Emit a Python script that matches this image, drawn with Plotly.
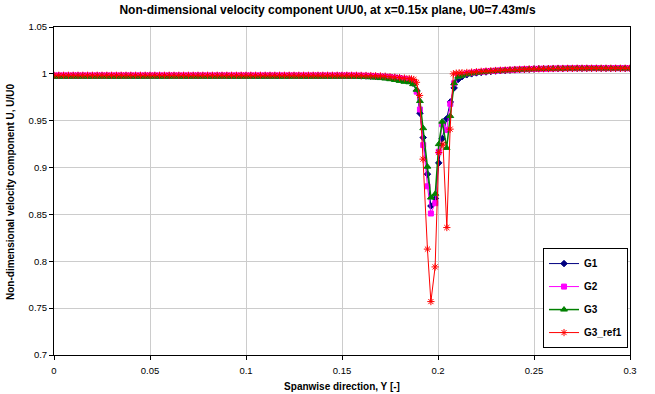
import plotly.graph_objects as go

# ---------------- data ----------------
Y_LEFT = [0.0, 0.0025, 0.005, 0.0075, 0.01, 0.0125, 0.015, 0.0175, 0.02, 0.0225,
          0.025, 0.0275, 0.03, 0.0325, 0.035, 0.0375, 0.04, 0.0425, 0.045, 0.0475,
          0.05, 0.0525, 0.055, 0.0575, 0.06, 0.0625, 0.065, 0.0675, 0.07, 0.0725,
          0.075, 0.0775, 0.08, 0.0825, 0.085, 0.0875, 0.09, 0.0925, 0.095, 0.0975,
          0.1, 0.1025, 0.105, 0.1075, 0.11, 0.1125, 0.115, 0.1175, 0.12, 0.1225,
          0.125, 0.1275, 0.13, 0.1325, 0.135, 0.1375, 0.14, 0.1425, 0.145, 0.1475,
          0.15, 0.1525, 0.155, 0.1575, 0.16, 0.1625, 0.165, 0.1675, 0.17, 0.1725,
          0.175, 0.1775, 0.18, 0.1825]

Y_RIGHT = [0.2125, 0.215, 0.2175, 0.22, 0.2225, 0.225, 0.2275, 0.23, 0.2325, 0.235,
           0.2375, 0.24, 0.2425, 0.245, 0.2475, 0.25, 0.2525, 0.255, 0.2575, 0.26,
           0.2625, 0.265, 0.2675, 0.27, 0.2725, 0.275, 0.2775, 0.28, 0.2825, 0.285,
           0.2875, 0.29, 0.2925, 0.295, 0.2975, 0.3]

DIP_Y = [0.185, 0.187, 0.1889, 0.1906, 0.1923, 0.1945, 0.1963, 0.1986, 0.2004,
         0.2022, 0.2045, 0.2064, 0.2084, 0.2105]

RED_DIP_Y = [0.185, 0.1862, 0.1874, 0.1888, 0.1904, 0.1922, 0.1945, 0.1963, 0.1985,
             0.2004, 0.2026, 0.2046, 0.2063, 0.208, 0.2095, 0.211]

G1_LEFT = [0.998, 0.998, 0.998, 0.998, 0.998, 0.998, 0.998, 0.998, 0.998, 0.998,
           0.998, 0.998, 0.998, 0.998, 0.998, 0.998, 0.998, 0.998, 0.998, 0.998,
           0.998, 0.998, 0.998, 0.998, 0.998, 0.998, 0.998, 0.998, 0.998, 0.998,
           0.998, 0.998, 0.998, 0.998, 0.998, 0.998, 0.998, 0.998, 0.998, 0.998,
           0.998, 0.998, 0.998, 0.998, 0.998, 0.998, 0.998, 0.998, 0.998, 0.998,
           0.998, 0.998, 0.998, 0.998, 0.998, 0.998, 0.998, 0.998, 0.998, 0.998,
           0.998, 0.998, 0.998, 0.998, 0.9978, 0.9977, 0.9975, 0.9972, 0.997, 0.9967,
           0.9963, 0.9958, 0.995, 0.9943]
G2_LEFT = [0.9983, 0.9983, 0.9983, 0.9983, 0.9983, 0.9983, 0.9983, 0.9983, 0.9983, 0.9983,
           0.9983, 0.9983, 0.9983, 0.9983, 0.9983, 0.9983, 0.9983, 0.9983, 0.9983, 0.9983,
           0.9983, 0.9983, 0.9983, 0.9983, 0.9983, 0.9983, 0.9983, 0.9983, 0.9983, 0.9983,
           0.9983, 0.9983, 0.9983, 0.9983, 0.9983, 0.9983, 0.9983, 0.9983, 0.9983, 0.9983,
           0.9983, 0.9983, 0.9983, 0.9983, 0.9983, 0.9983, 0.9983, 0.9983, 0.9983, 0.9983,
           0.9983, 0.9983, 0.9983, 0.9983, 0.9983, 0.9983, 0.9983, 0.9983, 0.9983, 0.9983,
           0.9983, 0.9983, 0.9983, 0.9982, 0.9981, 0.998, 0.9978, 0.9975, 0.9972, 0.997,
           0.9966, 0.996, 0.9955, 0.9948]
G3_LEFT = [0.997, 0.997, 0.997, 0.997, 0.997, 0.997, 0.997, 0.997, 0.997, 0.997,
           0.997, 0.997, 0.997, 0.997, 0.997, 0.997, 0.997, 0.997, 0.997, 0.997,
           0.997, 0.997, 0.997, 0.997, 0.997, 0.997, 0.997, 0.997, 0.997, 0.997,
           0.997, 0.997, 0.997, 0.997, 0.997, 0.997, 0.997, 0.997, 0.997, 0.997,
           0.997, 0.997, 0.997, 0.997, 0.997, 0.997, 0.997, 0.997, 0.997, 0.997,
           0.997, 0.997, 0.997, 0.997, 0.997, 0.997, 0.997, 0.997, 0.997, 0.997,
           0.997, 0.997, 0.997, 0.997, 0.9968, 0.9966, 0.9963, 0.996, 0.9955, 0.995,
           0.9943, 0.9935, 0.9925, 0.9915]
RED_LEFT = [0.9985, 0.9985, 0.9985, 0.9985, 0.9985, 0.9985, 0.9985, 0.9985, 0.9985, 0.9985,
            0.9985, 0.9985, 0.9985, 0.9985, 0.9985, 0.9985, 0.9985, 0.9985, 0.9985, 0.9985,
            0.9985, 0.9985, 0.9985, 0.9985, 0.9985, 0.9985, 0.9985, 0.9985, 0.9985, 0.9985,
            0.9985, 0.9985, 0.9985, 0.9985, 0.9985, 0.9985, 0.9985, 0.9985, 0.9985, 0.9985,
            0.9985, 0.9985, 0.9985, 0.9985, 0.9985, 0.9985, 0.9985, 0.9985, 0.9985, 0.9985,
            0.9985, 0.9985, 0.9985, 0.9985, 0.9985, 0.9985, 0.9985, 0.9985, 0.9985, 0.9985,
            0.9985, 0.9985, 0.9985, 0.9985, 0.9984, 0.9983, 0.9982, 0.998, 0.9978, 0.9975,
            0.997, 0.9965, 0.996, 0.9955]

G1_DIP = [0.993, 0.990, 0.982, 0.958, 0.932, 0.893, 0.859, 0.867, 0.905, 0.931,
          0.952, 0.970, 0.985, 0.994]
G2_DIP = [0.994, 0.991, 0.981, 0.962, 0.924, 0.880, 0.851, 0.862, 0.917, 0.946,
          0.940, 0.968, 0.990, 0.998]
G3_DIP = [0.991, 0.989, 0.983, 0.971, 0.942, 0.901, 0.868, 0.872, 0.925, 0.949,
          0.921, 0.955, 0.990, 0.997]
RED_DIP = [0.995, 0.9945, 0.994, 0.991, 0.977, 0.909, 0.813, 0.757, 0.794, 0.916,
           0.925, 0.836, 0.941, 1.000, 1.0008, 1.001]

G1_RIGHT = [0.997, 0.999, 1.000, 1.001, 1.0015, 1.002, 1.0025, 1.003, 1.0033, 1.0036,
            1.004, 1.0043, 1.0046, 1.0048, 1.005, 1.0052, 1.0054, 1.0055, 1.0056, 1.0057,
            1.0058, 1.0058, 1.0059, 1.0059, 1.006, 1.006, 1.006, 1.006, 1.006, 1.006,
            1.006, 1.006, 1.006, 1.006, 1.006, 1.006]
G2_RIGHT = [0.999, 1.0005, 1.0012, 1.0018, 1.0023, 1.0027, 1.0031, 1.0034, 1.0037, 1.004,
            1.0043, 1.0045, 1.0047, 1.0049, 1.0051, 1.0053, 1.0054, 1.0055, 1.0056, 1.0057,
            1.0058, 1.0058, 1.0059, 1.0059, 1.006, 1.006, 1.006, 1.006, 1.006, 1.006,
            1.006, 1.006, 1.006, 1.006, 1.006, 1.006]
G3_RIGHT = [0.998, 0.9995, 1.0005, 1.0012, 1.0018, 1.0023, 1.0027, 1.0031, 1.0034, 1.0037,
            1.004, 1.0042, 1.0044, 1.0046, 1.0048, 1.005, 1.0051, 1.0052, 1.0053, 1.0054,
            1.0055, 1.0055, 1.0056, 1.0056, 1.0057, 1.0057, 1.0057, 1.0057, 1.0057, 1.0057,
            1.0057, 1.0057, 1.0057, 1.0057, 1.0057, 1.0057]
RED_RIGHT = [1.0012, 1.0015, 1.0019, 1.0023, 1.0027, 1.003, 1.0033, 1.0036, 1.0039, 1.0041,
             1.0044, 1.0046, 1.0048, 1.005, 1.0052, 1.0053, 1.0054, 1.0055, 1.0056, 1.0057,
             1.0058, 1.0058, 1.0059, 1.0059, 1.006, 1.006, 1.006, 1.006, 1.006, 1.006,
             1.006, 1.006, 1.006, 1.006, 1.006, 1.006]

X_TICKS = [0, 0.05, 0.1, 0.15, 0.2, 0.25, 0.3]
X_TICK_TEXT = ["0", "0.05", "0.1", "0.15", "0.2", "0.25", "0.3"]
Y_TICKS = [0.7, 0.75, 0.8, 0.85, 0.9, 0.95, 1.0, 1.05]
Y_TICK_TEXT = ["0.7", "0.75", "0.8", "0.85", "0.9", "0.95", "1", "1.05"]

SERIES = [
    ("G1", Y_LEFT + DIP_Y + Y_RIGHT, G1_LEFT + G1_DIP + G1_RIGHT),
    ("G2", Y_LEFT + DIP_Y + Y_RIGHT, G2_LEFT + G2_DIP + G2_RIGHT),
    ("G3", Y_LEFT + DIP_Y + Y_RIGHT, G3_LEFT + G3_DIP + G3_RIGHT),
    ("G3_ref1", Y_LEFT + RED_DIP_Y + Y_RIGHT, RED_LEFT + RED_DIP + RED_RIGHT),
]

STYLES = {
    "G1": dict(color="#000080", symbol="diamond", size=5, lw=1),
    "G2": dict(color="#FF00FF", symbol="square", size=5, lw=1),
    "G3": dict(color="#008000", symbol="triangle-up", size=6, lw=1.5),
    "G3_ref1": dict(color="#FF0000", symbol="asterisk-open", size=6, lw=1),
}

FONT = "Liberation Sans, Arial, sans-serif"

fig = go.Figure()
for name, xs, ys in SERIES:
    st = STYLES[name]
    fig.add_trace(go.Scatter(
        x=xs, y=ys, name=name, mode="lines+markers", legendgroup=name,
        line=dict(color=st["color"], width=st["lw"]),
        marker=dict(symbol=st["symbol"], size=st["size"], color=st["color"],
                    line=dict(color=st["color"], width=1)),
    ))

axis_common = dict(
    showgrid=True, gridcolor="#CCCCCC", gridwidth=1,
    showline=True, linecolor="#000000", linewidth=1, mirror=True,
    ticks="outside", ticklen=4, tickcolor="#000000",
    tickfont=dict(family=FONT, size=9.5, color="#000000"),
    zeroline=False, automargin=False,
)

fig.update_layout(
    template="none",
    width=655, height=394,
    margin=dict(l=54, r=25, t=27, b=39),
    paper_bgcolor="#FFFFFF", plot_bgcolor="#FFFFFF",
    font=dict(family=FONT, color="#000000"),
    title=dict(text="Non-dimensional velocity component U/U0, at x=0.15x plane, U0=7.43m/s",
               font=dict(family=FONT, size=12, weight="bold", color="#000000"),
               x=0.5, xref="container", xanchor="center",
               y=1 - 10 / 394, yref="container", yanchor="middle"),
    xaxis=dict(range=[0, 0.3], tickvals=X_TICKS, ticktext=X_TICK_TEXT,
               title=dict(text="Spanwise direction, Y [-]", standoff=7,
                          font=dict(family=FONT, size=10, weight="bold")),
               ticklabelstandoff=3, **axis_common),
    yaxis=dict(range=[0.7, 1.05], tickvals=Y_TICKS, ticktext=Y_TICK_TEXT,
               **axis_common),
    legend=dict(x=0.849, y=0.326, xanchor="left", yanchor="top",
                bgcolor="#FFFFFF", bordercolor="#000000", borderwidth=1,
                font=dict(family=FONT, size=10, weight="bold", color="#000000"),
                tracegroupgap=4, traceorder="grouped"),
    showlegend=True,
    annotations=[dict(
        text="Non-dimensional velocity component U, U/U0",
        xref="paper", yref="paper", x=-0.0764, y=0.5,
        xanchor="center", yanchor="middle", textangle=-90, showarrow=False,
        font=dict(family=FONT, size=10, weight="bold", color="#000000"),
    )],
)

# the page's default 8px body margin would shift the figure; remove it
fig.write_html("out.html", config={"displayModeBar": False},
               post_script="document.body.style.margin='0px';")
